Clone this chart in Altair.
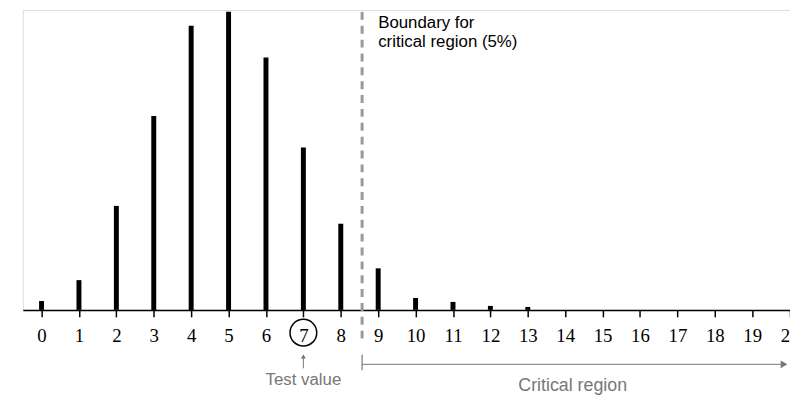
import altair as alt
import pandas as pd

# Data
k_values = list(range(0, 21))
probabilities = [0.0060, 0.0202, 0.0706, 0.1317, 0.1929, 0.2023, 0.1714, 0.1102,
                 0.0585, 0.0282, 0.0081, 0.0054, 0.0027, 0.0020, 0, 0, 0, 0, 0, 0, 0]
boundary_x = 8.57
test_value = 7
boundary_lines = ["Boundary for", "critical region (5%)"]

df = pd.DataFrame({"k": k_values, "p": probabilities})

xscale = alt.Scale(domain=[-0.5, 20.01], nice=False, zero=False)
yscale = alt.Scale(domain=[0, 0.2036], nice=False)

xaxis = alt.Axis(values=k_values, title=None, grid=False, tickSize=7, tickWidth=1.5,
                 tickColor="black", domainColor="black", domainWidth=1.5,
                 labelFont="Liberation Serif", labelFontSize=19, labelColor="black",
                 labelPadding=10, labelFlush=False, labelOverlap=False, labelBound=False)


def X(field):
    return alt.X(field, scale=xscale, axis=xaxis)


bars = alt.Chart(df).mark_rule(strokeWidth=5, color="black").encode(
    x=X("k:Q"),
    y=alt.Y("p:Q", scale=yscale, axis=None),
    y2=alt.Y2(datum=0),
)

one = pd.DataFrame({"x": [boundary_x]})
dashed = alt.Chart(one).mark_rule(color="#999999", strokeWidth=3, strokeDash=[8, 6]).encode(
    x=X("x:Q"), y=alt.value(2), y2=alt.value(337))

crit_start = alt.Chart(one).mark_rule(color="#777777", strokeWidth=1.2).encode(
    x=X("x:Q"), y=alt.value(348), y2=alt.value(364))

crit_df = pd.DataFrame({"x": [boundary_x], "x2": [19.9]})
crit_line = alt.Chart(crit_df).mark_rule(color="#777777", strokeWidth=1).encode(
    x=X("x:Q"), x2="x2:Q", y=alt.value(358))
crit_head = alt.Chart(pd.DataFrame({"x": [19.85]})).mark_point(
    shape="triangle-right", filled=True, color="#777777", size=60, opacity=1).encode(
    x=X("x:Q"), y=alt.value(358))
crit_text = alt.Chart(pd.DataFrame({"x": [14.2], "t": ["Critical region"]})).mark_text(
    font="Liberation Sans", fontSize=18, color="#777777", baseline="middle").encode(
    x=X("x:Q"), y=alt.value(380), text="t:N")

tv = pd.DataFrame({"x": [test_value], "t": ["Test value"]})
circle = alt.Chart(tv).mark_point(shape="circle", size=729, color="black",
                                  strokeWidth=1.5, filled=False, opacity=1).encode(
    x=X("x:Q"), y=alt.value(326))
tv_arrow = alt.Chart(tv).mark_rule(color="#777777", strokeWidth=1).encode(
    x=X("x:Q"), y=alt.value(351), y2=alt.value(362))
tv_head = alt.Chart(tv).mark_point(shape="triangle-up", filled=True, color="#777777",
                                   size=25, opacity=1).encode(
    x=X("x:Q"), y=alt.value(350))
tv_text = alt.Chart(tv).mark_text(font="Liberation Sans", fontSize=17, color="#777777",
                                  baseline="middle").encode(
    x=X("x:Q"), y=alt.value(374), text="t:N")

bd = pd.DataFrame({"x": [9.0, 9.0], "t": boundary_lines, "row": [0, 1]})
bd_text0 = alt.Chart(bd[bd.row == 0]).mark_text(font="Liberation Sans", fontSize=17,
                                                color="black", align="left",
                                                baseline="alphabetic").encode(
    x=X("x:Q"), y=alt.value(18), text="t:N")
bd_text1 = alt.Chart(bd[bd.row == 1]).mark_text(font="Liberation Sans", fontSize=17,
                                                color="black", align="left",
                                                baseline="alphabetic").encode(
    x=X("x:Q"), y=alt.value(37), text="t:N")

chart = alt.layer(bars, dashed, crit_start, crit_line, crit_head, crit_text,
                  circle, tv_arrow, tv_head, tv_text, bd_text0, bd_text1).properties(
    width=775, height=303,
    autosize=alt.AutoSizeParams(type="none"),
    padding={"left": 15, "top": 0, "right": 0, "bottom": 84},
).configure_view(stroke=None).configure(background="white")

chart.save("out.html", embed_options={"renderer": "svg", "actions": False})
